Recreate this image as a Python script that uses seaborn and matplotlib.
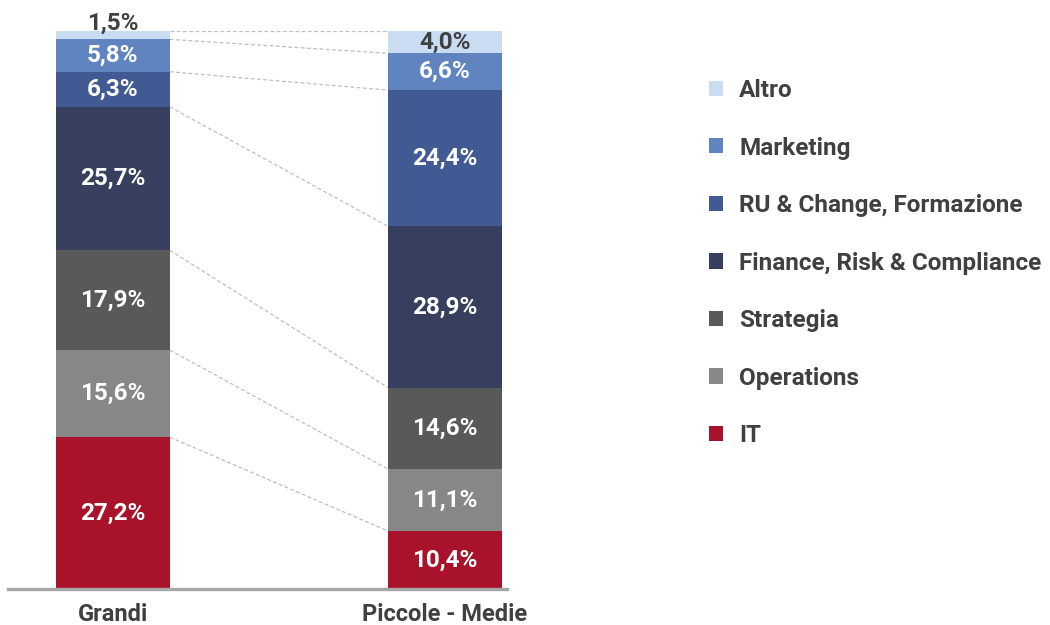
import numpy as np
import pandas as pd
import matplotlib.pyplot as plt
import seaborn as sns
from matplotlib.patches import Patch

# ------------------------------------------------------------------
# Data (stacking order: bottom -> top)
# ------------------------------------------------------------------
groups = ["Grandi", "Piccole - Medie"]
categories = ["IT", "Operations", "Strategia", "Finance, Risk & Compliance",
              "RU & Change, Formazione", "Marketing", "Altro"]
grandi = [27.2, 15.6, 17.9, 25.7, 6.3, 5.8, 1.5]
piccole = [10.4, 11.1, 14.6, 28.9, 24.4, 6.6, 4.0]
colors = ["#a8132b", "#878787", "#595959", "#373f5e",
          "#425a93", "#6084bf", "#cadcf2"]

sns.set_theme(style="white")
plt.rcParams["font.family"] = ["Roboto", "DejaVu Sans"]
plt.rcParams["font.weight"] = "bold"

text_dark = "#404040"

df = pd.DataFrame({"categoria": categories, "Grandi": grandi,
                   "Piccole - Medie": piccole})
long = df.melt(id_vars="categoria", var_name="gruppo", value_name="valore")
long["top"] = long.groupby("gruppo")["valore"].cumsum()
long["mid"] = long["top"] - long["valore"] / 2

fig = plt.figure(figsize=(10.5, 6.25), dpi=100)
ax = fig.add_axes([8 / 1050, 36 / 625, 499 / 1050, 558 / 625])

bar_w = 0.343
# draw cumulative bars from the top segment down so each one overlays the last
for cat, col in reversed(list(zip(categories, colors))):
    sub = long[long["categoria"] == cat]
    sns.barplot(data=sub, x="gruppo", y="top", order=groups, color=col,
                width=bar_w, saturation=1, linewidth=0, ax=ax)

# dashed connectors between matching segment boundaries
for cat in categories:
    y0 = long[(long["categoria"] == cat) & (long["gruppo"] == groups[0])]["top"].iloc[0]
    y1 = long[(long["categoria"] == cat) & (long["gruppo"] == groups[1])]["top"].iloc[0]
    ax.plot([bar_w / 2, 1 - bar_w / 2], [y0, y1], ls=(0, (3, 2)),
            color="#bdbdbd", lw=0.9, zorder=0)

# segment labels
for _, r in long.iterrows():
    x = groups.index(r["gruppo"])
    txt = f"{r['valore']:.1f}%".replace(".", ",")
    col = text_dark if r["categoria"] == "Altro" else "white"
    y = r["mid"] if r["valore"] >= 3 else r["top"] + 1.3
    ax.text(x, y, txt, ha="center", va="center", color=col,
            fontsize=17.5, fontweight="bold", clip_on=False)

ax.set_xlim(-0.316, 1.187)
ax.set_ylim(0, 100)
ax.set_xlabel("")
ax.set_ylabel("")
ax.set_yticks([])
for s in ["top", "right", "left"]:
    ax.spines[s].set_visible(False)
ax.spines["bottom"].set_color("#a6a6a6")
ax.spines["bottom"].set_linewidth(2.4)
ax.tick_params(axis="x", length=0, pad=10, labelsize=17, labelcolor=text_dark)
for lab in ax.get_xticklabels():
    lab.set_fontweight("bold")

handles = [Patch(facecolor=c, edgecolor="none", label=l)
           for l, c in zip(categories, colors)][::-1]
leg = fig.legend(handles=handles, loc="upper left",
                 bbox_to_anchor=(709 / 1050, 1 - 79 / 625),
                 frameon=False, fontsize=17.5, handlelength=0.58,
                 handleheight=0.58, handletextpad=0.66, labelspacing=1.42,
                 borderpad=0, borderaxespad=0)
for t in leg.get_texts():
    t.set_color(text_dark)
    t.set_fontweight("bold")

fig.savefig("out.png", dpi=100)
